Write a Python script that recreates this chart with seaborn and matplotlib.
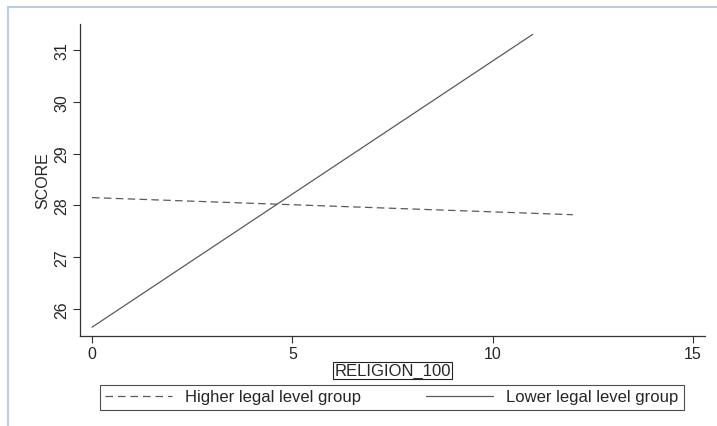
import pandas as pd
import numpy as np
import matplotlib
matplotlib.use('Agg')
import matplotlib.pyplot as plt
import seaborn as sns
from matplotlib.lines import Line2D

sns.set_style('white')
plt.rcParams['font.family'] = ['Liberation Sans', 'DejaVu Sans']

# fitted lines (end points)
higher_x = [0, 12]
higher_y = [28.15, 27.82]
lower_x = [0, 11]
lower_y = [25.65, 31.3]
groups = ['Higher legal level group', 'Lower legal level group']
x_ticks = [0, 5, 10, 15]
y_ticks = [26, 27, 28, 29, 30, 31]

df = pd.DataFrame({
    'RELIGION_100': higher_x + lower_x,
    'SCORE': higher_y + lower_y,
    'group': [groups[0]] * len(higher_x) + [groups[1]] * len(lower_x),
})

line_col = '#5a5a5a'
fig = plt.figure(figsize=(7.17, 4.27), dpi=100)
ax = fig.add_axes([0.1116, 0.2108, 0.8717, 0.7307])

sns.lineplot(data=df, x='RELIGION_100', y='SCORE', hue='group', style='group',
             palette=[line_col, line_col],
             dashes={groups[0]: (6, 3.5), groups[1]: ''},
             linewidth=0.9, ax=ax, legend=False)

ax.set_xlim(-0.3, 15.3)
ax.set_ylim(25.48, 31.5)
ax.set_xticks(x_ticks)
ax.set_yticks(y_ticks)
ax.tick_params(axis='both', length=5, width=0.8, color='#333333', labelsize=11.5,
               direction='out', bottom=True, left=True, pad=2.5)
for lab in ax.get_yticklabels():
    lab.set_rotation(90)
    lab.set_va('center')
sns.despine(ax=ax)
for s in ['left', 'bottom']:
    ax.spines[s].set_color('#333333')
    ax.spines[s].set_linewidth(0.9)

ax.set_xlabel('RELIGION_100', fontsize=12, labelpad=1,
              bbox=dict(boxstyle='square,pad=0.05', fc='white', ec='#222222', lw=0.8))
ax.set_ylabel('SCORE', fontsize=11.5, labelpad=3)

handles = [Line2D([], [], color=line_col, lw=0.9, dashes=(6, 4)),
           Line2D([], [], color=line_col, lw=0.9)]
leg = fig.legend(handles, groups, loc='center', bbox_to_anchor=(392 / 717, 1 - 398 / 427), ncol=2,
                 fontsize=12, frameon=True, fancybox=False, handlelength=4.0,
                 columnspacing=3.9, borderpad=0.3, handletextpad=0.8)
leg.get_frame().set_edgecolor('#222222')
leg.get_frame().set_linewidth(0.8)

# light blue frame of the graph region
fig.add_artist(Line2D([8 / 717, 1], [1 - 8 / 427, 1 - 8 / 427], transform=fig.transFigure,
                      color='#a9c4e4', lw=1.2))
fig.add_artist(Line2D([8 / 717, 8 / 717], [0, 1 - 8 / 427], transform=fig.transFigure,
                      color='#a9c4e4', lw=1.2))

fig.savefig('out.png', dpi=100)
